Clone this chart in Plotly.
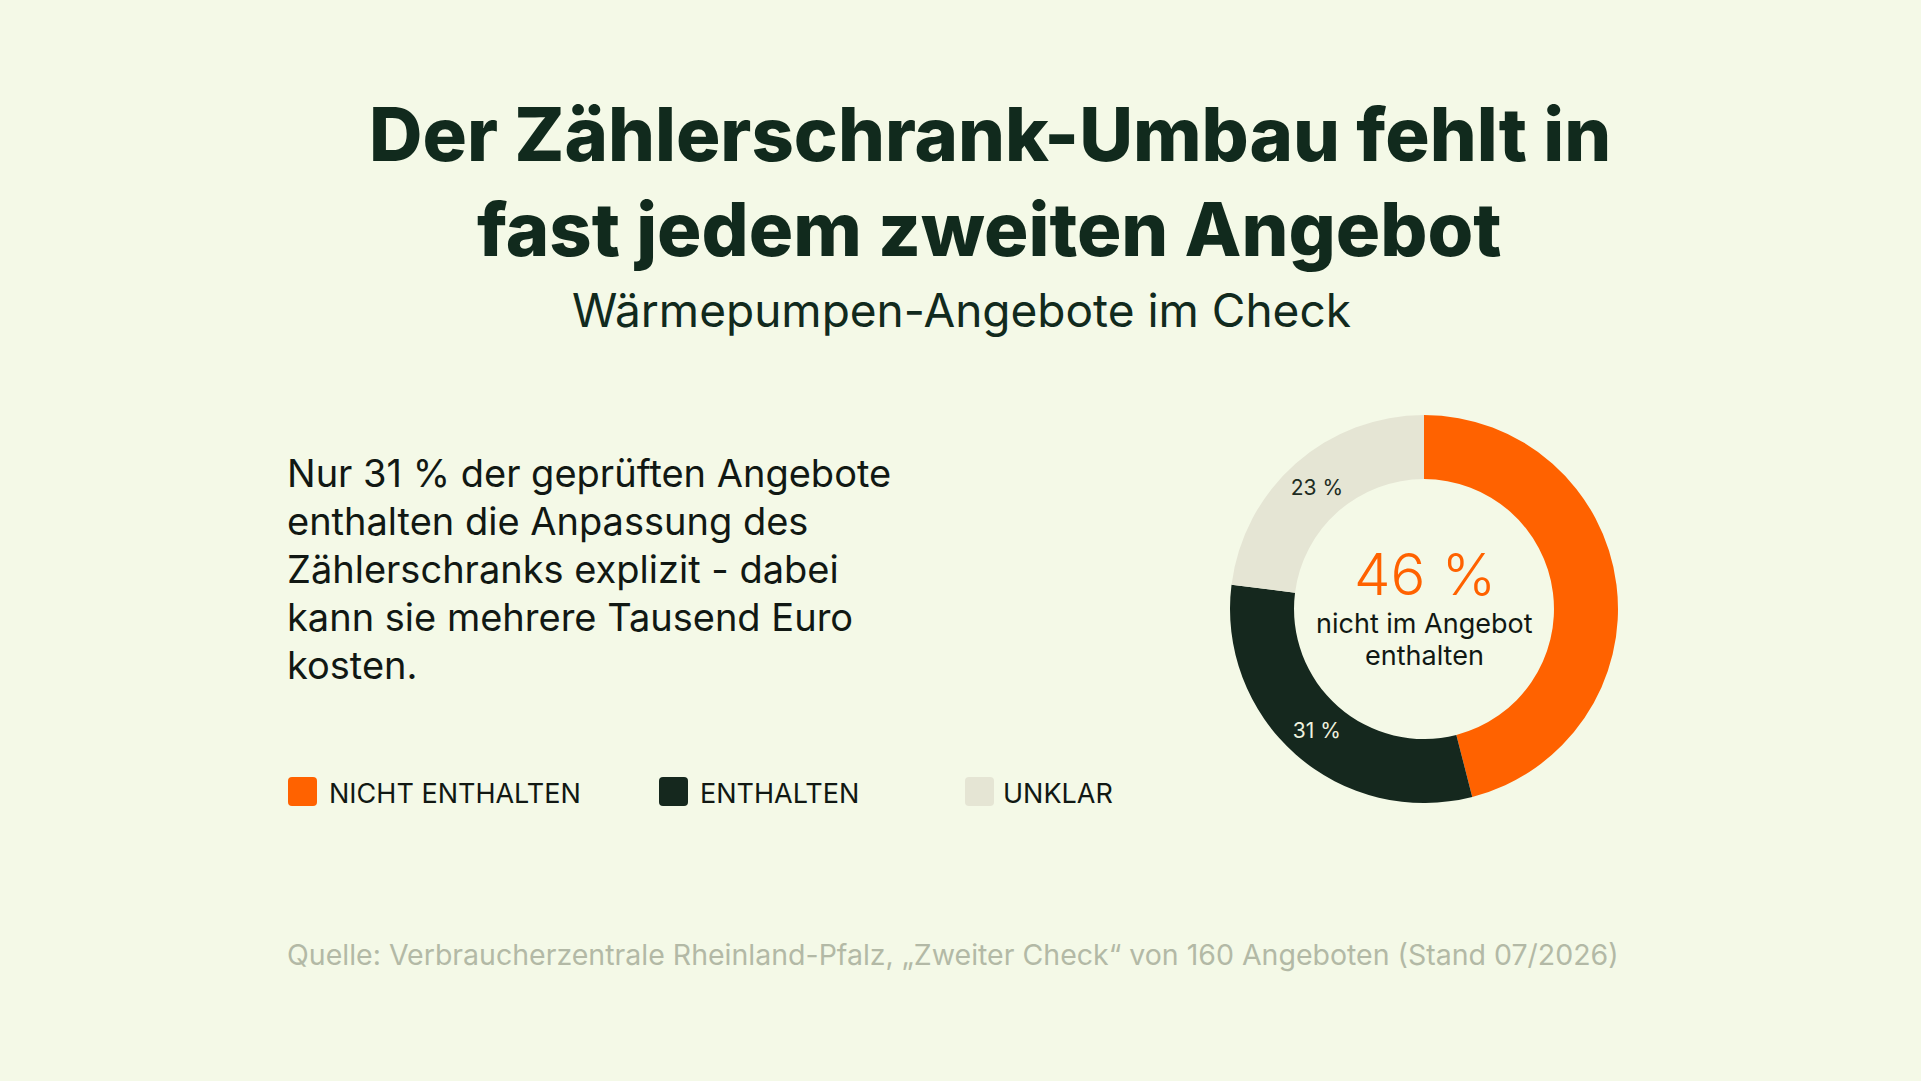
import plotly.graph_objects as go

W, H = 1921, 1081

# ---- data ----
categories = ["NICHT ENTHALTEN", "ENTHALTEN", "UNKLAR"]
shares = [46, 31, 23]
slice_labels = ["", "31 %", "23 %"]
title_lines = ["Der Zählerschrank-Umbau fehlt in", "fast jedem zweiten Angebot"]
subtitle = "Wärmepumpen-Angebote im Check"
body_lines = [
    "Nur 31 % der geprüften Angebote",
    "enthalten die Anpassung des",
    "Zählerschranks explizit - dabei",
    "kann sie mehrere Tausend Euro",
    "kosten.",
]
center_value = "46 %"
center_lines = ["nicht im Angebot", "enthalten"]
source = "Quelle: Verbraucherzentrale Rheinland-Pfalz, „Zweiter Check“ von 160 Angeboten (Stand 07/2026)"

# ---- style ----
BG = "#F4F9E7"
ORANGE = "#FF6200"
DARK = "#15281E"
BEIGE = "#E5E5D4"
colors = [ORANGE, DARK, BEIGE]
TITLE_C = "#112A1D"
TEXT_C = "#111813"
SRC_C = "#B3B9A6"
FONT = "Inter"


def px(x):
    return x / W


def py(y):
    return 1 - y / H


fig = go.Figure()

cx, cy, r = 1424, 609, 194
fig.add_trace(go.Pie(
    values=shares,
    labels=categories,
    text=slice_labels,
    textinfo="text",
    textposition="inside",
    insidetextorientation="horizontal",
    marker=dict(colors=colors, line=dict(width=0)),
    textfont=dict(family=FONT, size=21, color=[ORANGE, "#EEF1DE", "#1D2B22"]),
    sort=False,
    direction="clockwise",
    rotation=0,
    hole=0.67,
    domain=dict(x=[px(cx - r), px(cx + r)], y=[py(cy + r), py(cy - r)]),
    showlegend=False,
    hoverinfo="skip",
))

ann = []


def add_text(x, y, text, size, color, weight=400, xanchor="left", family=FONT):
    ann.append(dict(
        x=px(x), y=py(y), xref="paper", yref="paper", text=text, showarrow=False,
        xanchor=xanchor, yanchor="middle",
        font=dict(family=family, size=size, color=color, weight=weight),
    ))


# title
add_text(990, 134, title_lines[0], 74, TITLE_C, 800, "center")
add_text(990, 229, title_lines[1], 74, TITLE_C, 800, "center")
add_text(961, 310, subtitle, 46, TITLE_C, 400, "center")

# body
for i, line in enumerate(body_lines):
    add_text(285, 473 + 48 * i, line, 38, TEXT_C, 400, "left")

# center
add_text(cx + 1, 574, center_value, 58, ORANGE, 300, "center")
add_text(cx, 623, center_lines[0], 27, TEXT_C, 400, "center")
add_text(cx, 655, center_lines[1], 27, TEXT_C, 400, "center")

# legend (manual, rounded squares)
leg_sq_x = [288, 659, 965]
leg_txt_x = [327, 698, 1001]
shapes = []
sq = 29
rad = 4
for i, cat in enumerate(categories):
    x0, y0 = leg_sq_x[i], 777
    x1, y1 = x0 + sq, y0 + sq
    rx, ry = rad / W, rad / H
    X0, X1, Y0, Y1 = px(x0), px(x1), py(y1), py(y0)
    path = (f"M {X0+rx},{Y0} L {X1-rx},{Y0} Q {X1},{Y0} {X1},{Y0+ry} "
            f"L {X1},{Y1-ry} Q {X1},{Y1} {X1-rx},{Y1} L {X0+rx},{Y1} "
            f"Q {X0},{Y1} {X0},{Y1-ry} L {X0},{Y0+ry} Q {X0},{Y0} {X0+rx},{Y0} Z")
    shapes.append(dict(type="path", path=path, xref="paper", yref="paper",
                       fillcolor=colors[i], line=dict(width=0)))
    add_text(leg_txt_x[i], 793, cat, 27, TEXT_C, 400, "left")

# source
add_text(285, 954, source, 28.5, SRC_C, 400, "left")

fig.update_layout(
    width=W, height=H,
    margin=dict(l=0, r=0, t=0, b=0),
    paper_bgcolor=BG, plot_bgcolor=BG,
    annotations=ann, shapes=shapes,
    xaxis=dict(visible=False), yaxis=dict(visible=False),
    uniformtext=dict(minsize=10, mode="show"),
)

fig.write_html("out.html")
